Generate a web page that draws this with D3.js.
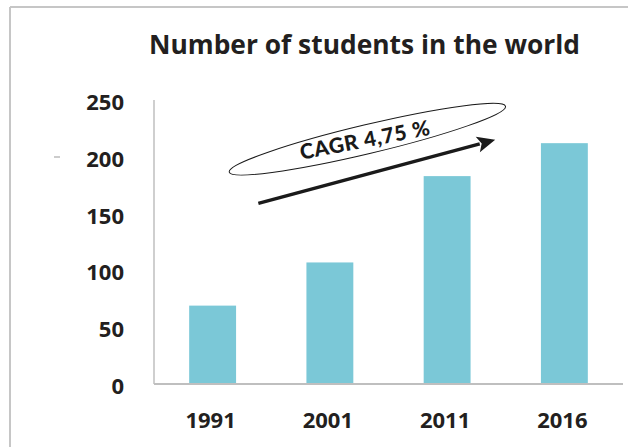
<!DOCTYPE html>
<html>
<head>
<meta charset="utf-8">
<script src="https://cdn.jsdelivr.net/npm/d3@7"></script>
<style>
  html, body { margin: 0; padding: 0; background: #fff; }
  svg { display: block; }
</style>
</head>
<body>
<svg id="chart" width="639" height="447"></svg>
<script>
// ---- data ----
const title = "Number of students in the world";
const categories = ["1991", "2001", "2011", "2016"];
const values = [69, 107, 183, 212];
const yTicks = [0, 50, 100, 150, 200, 250];
const annotationText = "CAGR 4,75 %";
// annotation anchors in (category index, value) space
const arrowStart = [0.39, 159];
const arrowEnd = [2.41, 215];
const ellipseCenter = [1.32, 215.5];

// ---- layout ----
const W = 639, H = 447;
const plot = { left: 154, right: 623, top: 100, bottom: 384 };
const barColor = "#7BC8D7";
const textColor = "#231F20";
const axisColor = "#BFBFBF";

const svg = d3.select("#chart");

// frame (partially visible)
svg.append("line").attr("x1", 10).attr("x2", 10).attr("y1", 7).attr("y2", H)
  .attr("stroke", "#C6C6C6").attr("stroke-width", 2);
svg.append("line").attr("x1", 10).attr("x2", 628).attr("y1", 7).attr("y2", 7)
  .attr("stroke", "#C6C6C6").attr("stroke-width", 2);

const x = d3.scaleBand().domain(categories)
  .range([plot.left, plot.right]).paddingInner(0.6).paddingOuter(0.3);
const y = d3.scaleLinear().domain([0, 250]).range([plot.bottom, plot.top]);
const xi = d3.scaleLinear().domain([-0.5, categories.length - 0.5]).range([plot.left, plot.right]);

// title
svg.append("text")
  .attr("x", (149 + 580) / 2).attr("y", 54)
  .attr("text-anchor", "middle")
  .attr("font-family", "'Open Sans', sans-serif")
  .attr("font-weight", 700).attr("font-size", 27)
  .attr("fill", textColor)
  .attr("textLength", 431).attr("lengthAdjust", "spacingAndGlyphs")
  .text(title);

// small stray dash
svg.append("line").attr("x1", 54).attr("x2", 60).attr("y1", 157).attr("y2", 157)
  .attr("stroke", "#999").attr("stroke-width", 1);

// bars
svg.append("g").selectAll("rect").data(values).join("rect")
  .attr("x", (d, i) => x(categories[i]))
  .attr("y", d => y(d))
  .attr("width", x.bandwidth())
  .attr("height", d => y(0) - y(d))
  .attr("fill", barColor);

// axes lines
svg.append("line").attr("x1", plot.left).attr("x2", plot.left)
  .attr("y1", y(250)).attr("y2", y(0))
  .attr("stroke", axisColor).attr("stroke-width", 1.5);
svg.append("line").attr("x1", plot.left).attr("x2", plot.right)
  .attr("y1", y(0)).attr("y2", y(0))
  .attr("stroke", axisColor).attr("stroke-width", 2);

// y tick labels
svg.append("g").selectAll("text").data(yTicks).join("text")
  .attr("x", 124).attr("y", d => y(d) + 1)
  .attr("text-anchor", "end").attr("dominant-baseline", "central")
  .attr("font-family", "'Open Sans', sans-serif")
  .attr("font-weight", 700).attr("font-size", 22)
  .attr("fill", textColor)
  .text(d => d);

// x tick labels
svg.append("g").selectAll("text").data(categories).join("text")
  .attr("x", d => x(d) + x.bandwidth() / 2 - 2)
  .attr("y", 428)
  .attr("text-anchor", "middle")
  .attr("font-family", "'Open Sans', sans-serif")
  .attr("font-weight", 700).attr("font-size", 22)
  .attr("fill", textColor)
  .text(d => d);

// annotation: arrow
const sx = xi(arrowStart[0]), sy = y(arrowStart[1]);
const ex = xi(arrowEnd[0]), ey = y(arrowEnd[1]);
const ang = Math.atan2(ey - sy, ex - sx);
const headLen = 18, headW = 8;
const bx = ex - headLen * Math.cos(ang), by = ey - headLen * Math.sin(ang);
svg.append("line").attr("x1", sx).attr("y1", sy).attr("x2", bx + 2 * Math.cos(ang)).attr("y2", by + 2 * Math.sin(ang))
  .attr("stroke", "#1a1a1a").attr("stroke-width", 3.5);
svg.append("path")
  .attr("d", `M${ex},${ey} L${bx - headW * Math.sin(ang)},${by + headW * Math.cos(ang)} L${bx + 4 * Math.cos(ang)},${by + 4 * Math.sin(ang)} L${bx + headW * Math.sin(ang)},${by - headW * Math.cos(ang)} Z`)
  .attr("fill", "#1a1a1a");

// annotation: ellipse
const cx = xi(ellipseCenter[0]), cy = y(ellipseCenter[1]);
svg.append("ellipse")
  .attr("cx", 0).attr("cy", 0).attr("rx", 142).attr("ry", 14.5)
  .attr("transform", `translate(${cx},${cy}) rotate(-13.4)`)
  .attr("fill", "none").attr("stroke", "#1a1a1a").attr("stroke-width", 1);

svg.append("text")
  .attr("transform", `translate(${cx - 1},${cy + 8}) rotate(-11)`)
  .attr("text-anchor", "middle")
  .attr("font-family", "Lato, 'Open Sans', sans-serif")
  .attr("font-weight", 900).attr("font-size", 21)
  .attr("letter-spacing", 0.6)
  .attr("fill", "#1a1a1a")
  .text(annotationText);
</script>
</body>
</html>
